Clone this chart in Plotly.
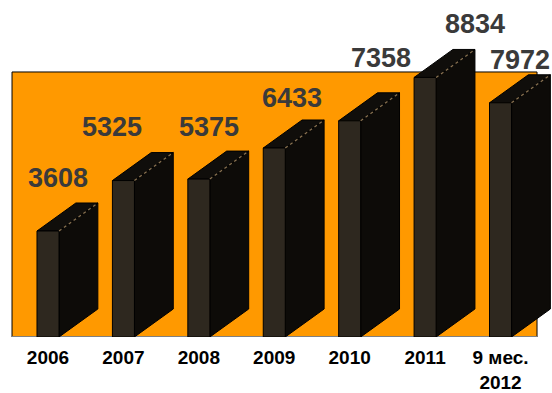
import plotly.graph_objects as go

categories = ["2006", "2007", "2008", "2009", "2010", "2011", "9 мес.<br>2012"]
values = [3608, 5325, 5375, 6433, 7358, 8834, 7972]

# styling / geometry constants
BAR_W = 0.292        # front face width in category units
DX = 0.515           # 3D depth offset in category units
DY = 953             # 3D depth offset in value units
LABEL_SHIFTS = [(9.5, 53), (-11, 54), (10, 52), (18, 50), (31, 63), (50, 53), (19, 43)]

FRONT = "#2E281F"
SIDE = "#0D0B08"
TOP = "#100E0B"
ORANGE = "#FF9900"

fx, fy, sx, sy, tx, ty, ex, ey = [], [], [], [], [], [], [], []
for i, v in enumerate(values):
    l, r = i - BAR_W / 2, i + BAR_W / 2
    fx += [l, r, r, l, l, None]
    fy += [0, 0, v, v, 0, None]
    sx += [r, r + DX, r + DX, r, r, None]
    sy += [0, DY, v + DY, v, 0, None]
    tx += [l, r, r + DX, l + DX, l, None]
    ty += [v, v, v + DY, v + DY, v, None]
    ex += [r, r + DX, None]
    ey += [v, v + DY, None]

fig = go.Figure()
fig.add_trace(go.Scatter(x=sx, y=sy, fill="toself", fillcolor=SIDE, mode="lines",
                         line=dict(color="#000000", width=1), hoverinfo="skip"))
fig.add_trace(go.Scatter(x=tx, y=ty, fill="toself", fillcolor=TOP, mode="lines",
                         line=dict(color="#000000", width=1), hoverinfo="skip"))
fig.add_trace(go.Scatter(x=fx, y=fy, fill="toself", fillcolor=FRONT, mode="lines",
                         line=dict(color="#000000", width=1), hoverinfo="skip"))
fig.add_trace(go.Scatter(x=ex, y=ey, mode="lines",
                         line=dict(color="#8A7352", width=1.2, dash="dot"), hoverinfo="skip"))

for i, v in enumerate(values):
    xs, ys = LABEL_SHIFTS[i]
    fig.add_annotation(x=i, y=v, text=str(v), showarrow=False,
                       xanchor="center", yanchor="middle", xshift=xs, yshift=ys,
                       font=dict(family="Liberation Sans, Arial", size=27, color="#3A3A3A",
                                 weight="bold"))

# orange back wall
fig.add_shape(type="rect", xref="x", yref="y", x0=-0.477, x1=6.484, y0=0, y1=9020,
              fillcolor=ORANGE, line=dict(color="#000000", width=1), layer="below")
fig.add_shape(type="line", xref="x", yref="y", x0=-0.477, x1=6.484, y0=0, y1=0,
              line=dict(color="#808080", width=2), layer="below")

fig.update_layout(
    width=552, height=393,
    margin=dict(l=0, r=0, t=0, b=56),
    paper_bgcolor="white", plot_bgcolor="white",
    showlegend=False,
    xaxis=dict(range=[-0.6364, 6.6826], tickvals=list(range(len(categories))),
               ticktext=[f"<b>{c}</b>" for c in categories],
               showgrid=False, zeroline=False, showline=False, ticks="",
               ticklabelstandoff=7,
               tickfont=dict(family="Liberation Sans, Arial", size=19, color="#000000"),
               fixedrange=True),
    yaxis=dict(range=[0, 11470], showgrid=False, zeroline=False, showline=False,
               showticklabels=False, ticks="", fixedrange=True),
)

fig.write_html("out.html")
